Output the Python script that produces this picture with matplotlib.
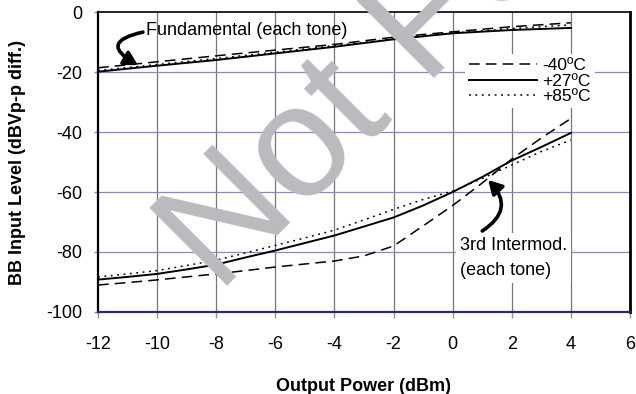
import numpy as np
import matplotlib
matplotlib.use('Agg')
import matplotlib.pyplot as plt

plt.rcParams['font.family'] = ['Liberation Sans', 'DejaVu Sans']

# Fundamental, one point every 2 dB
fund_x = [-12, -10, -8, -6, -4, -2, 0, 2, 4]
fund_m40 = [-18.6, -16.6, -14.6, -12.7, -10.8, -8.4, -6.6, -4.9, -3.6]
fund_p27 = [-19.9, -17.9, -16.0, -13.8, -11.6, -9.1, -7.1, -6.0, -5.3]
fund_p85 = [-19.5, -17.5, -15.5, -13.4, -11.2, -9.0, -7.0, -5.5, -4.3]

# 3rd intermod, one point every 1 dB
im_x = [-12, -11, -10, -9, -8, -7, -6, -5, -4, -3, -2, -1, 0, 1, 2, 3, 4]
im_m40 = [-91.0, -90.2, -89.3, -88.3, -87.3, -86.2, -85.0, -84.0, -83.0, -81.3,
          -78.0, -71.3, -64.5, -57.0, -49.0, -42.0, -35.5]
im_p27 = [-89.2, -88.3, -87.3, -85.8, -84.2, -81.8, -79.5, -77.0, -74.5, -71.5,
          -68.5, -64.5, -60.0, -55.0, -49.5, -45.0, -40.3]
im_p85 = [-88.3, -87.3, -86.2, -84.5, -82.7, -80.3, -77.8, -75.3, -72.7, -69.3,
          -65.8, -62.5, -59.7, -55.5, -51.0, -46.5, -42.7]

temps = ['-40ºC', '+27ºC', '+85ºC']
xticks = [-12, -10, -8, -6, -4, -2, 0, 2, 4, 6]
yticks = [0, -20, -40, -60, -80, -100]

fig = plt.figure(figsize=(6.36, 3.94), dpi=100)
ax = fig.add_axes([98 / 636, 1 - 312 / 394, 532 / 636, 300 / 394])

dash = dict(color='black', lw=1.1, dashes=(7, 4))
solid = dict(color='black', lw=1.4)
dot = dict(color='black', lw=1.1, dashes=(1.2, 3))

l1, = ax.plot(fund_x, fund_m40, **dash)
l2, = ax.plot(fund_x, fund_p27, **solid)
l3, = ax.plot(fund_x, fund_p85, **dot)
ax.plot(im_x, im_m40, **dash)
ax.plot(im_x, im_p27, **solid)
ax.plot(im_x, im_p85, **dot)

ax.set_xlim(-12, 6)
ax.set_ylim(-100, 0)
ax.set_xticks(xticks)
ax.set_yticks(yticks)
ax.set_xticklabels([str(v) for v in xticks])
ax.set_yticklabels([str(v) for v in yticks])

for v in xticks[1:-1]:
    ax.axvline(v, color='#777777', lw=0.9, zorder=0)
for v in yticks[1:-1]:
    ax.axhline(v, color='#8a8ab8', lw=0.9, zorder=0)

ax.spines['left'].set_linewidth(1.6)
ax.spines['top'].set_linewidth(1.2)
ax.spines['right'].set_linewidth(2.0)
ax.spines['bottom'].set_color('#2c2c60')
ax.spines['bottom'].set_linewidth(1.6)
ax.tick_params(axis='x', direction='out', length=4, width=1, color='#9090c0',
               labelsize=13, pad=13)
ax.tick_params(axis='y', direction='out', length=3, width=1, color='#909090',
               labelsize=13, pad=8)

ax.set_xlabel('Output Power (dBm)', fontsize=13, fontweight='bold')
ax.xaxis.set_label_coords(0.5, -0.22)
ax.set_ylabel('BB Input Level (dBVp-p diff.)', fontsize=13, fontweight='bold')
ax.yaxis.set_label_coords(-0.135, 0.5)

leg = ax.legend([l1, l2, l3], temps, loc='upper left', bbox_to_anchor=(0.69, 0.86),
                frameon=True, fontsize=12.5, handlelength=3.9, handletextpad=0.3,
                labelspacing=0.0, borderpad=0.25, borderaxespad=0)
leg.get_frame().set_edgecolor('none')
leg.get_frame().set_facecolor('white')
leg.get_frame().set_alpha(1)

# Fundamental label with its hooked arrow
ax.text(-10.38, -6.3, 'Fundamental (each tone)', fontsize=13, va='center', ha='left')
ax.annotate('', xy=(-10.65, -17.7), xytext=(-10.48, -6.7),
            arrowprops=dict(arrowstyle='-|>,head_length=0.8,head_width=0.45',
                            color='black', lw=2.6,
                            connectionstyle='arc3,rad=1.3', shrinkA=0, shrinkB=0))

# 3rd intermod label with its arrow
ax.text(0.25, -82, '3rd Intermod.\n(each tone)', fontsize=13, va='center', ha='left',
        linespacing=1.65,
        bbox=dict(facecolor='white', edgecolor='none', pad=3))
ax.annotate('', xy=(1.2, -56), xytext=(1.0, -73),
            arrowprops=dict(arrowstyle='-|>,head_length=0.8,head_width=0.45',
                            color='black', lw=2.6,
                            connectionstyle='arc3,rad=0.6', shrinkA=0, shrinkB=0))

# watermark
fig.text(219 / 636, 1 - 295 / 394, 'Not For', rotation=45, rotation_mode='anchor',
         ha='left', va='baseline', fontsize=115, color='#b9bbbe', zorder=10)

fig.savefig('out.png', dpi=100)
